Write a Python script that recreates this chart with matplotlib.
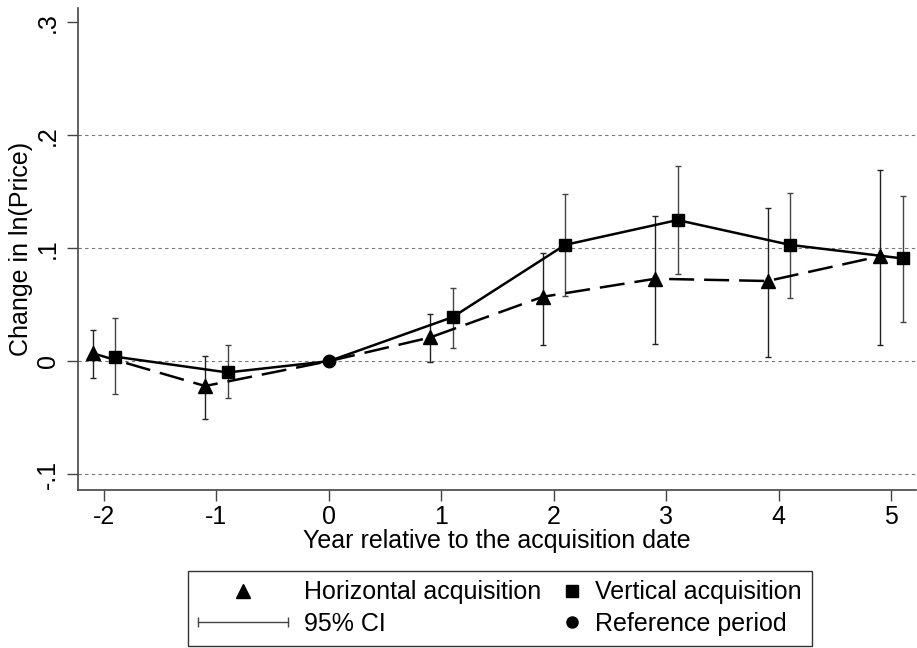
import numpy as np
import matplotlib.pyplot as plt
from matplotlib.lines import Line2D
from matplotlib.legend_handler import HandlerBase

plt.rcParams["font.family"] = ["Liberation Sans", "DejaVu Sans"]

years = [-2, -1, 0, 1, 2, 3, 4, 5]

# horizontal acquisitions (plotted slightly left of the year)
horiz_x = [-2.1, -1.1, 0.9, 1.9, 2.9, 3.9, 4.9]
horiz = [0.007, -0.022, 0.021, 0.057, 0.073, 0.071, 0.093]
horiz_lo = [-0.015, -0.051, -0.001, 0.014, 0.015, 0.004, 0.014]
horiz_hi = [0.028, 0.005, 0.042, 0.096, 0.129, 0.136, 0.169]

# vertical acquisitions (plotted slightly right of the year)
vert_x = [-1.9, -0.9, 1.1, 2.1, 3.1, 4.1, 5.1]
vert = [0.004, -0.010, 0.039, 0.103, 0.125, 0.103, 0.091]
vert_lo = [-0.029, -0.033, 0.012, 0.058, 0.077, 0.056, 0.035]
vert_hi = [0.038, 0.014, 0.065, 0.148, 0.173, 0.149, 0.146]

ref_x, ref_y = 0, 0


class MarkerHandler(HandlerBase):
    # marker drawn at a chosen spot of the handle box (0.5 = centre, 1 = right end)
    def __init__(self, marker, ms, where=0.5):
        super().__init__()
        self.marker, self.ms, self.where = marker, ms, where

    def create_artists(self, legend, orig_handle, xdescent, ydescent, width, height,
                       fontsize, trans):
        x = -xdescent + width * self.where - (self.ms * 0.6 if self.where == 1 else 0)
        y = -ydescent + height / 2
        m = Line2D([x], [y], marker=self.marker, color="black", ls="none", ms=self.ms,
                   transform=trans)
        return [m]


class CIHandler(HandlerBase):
    def create_artists(self, legend, orig_handle, xdescent, ydescent, width, height,
                       fontsize, trans):
        y = -ydescent + height / 2
        x0, x1 = -xdescent, -xdescent + width
        line = Line2D([x0, x1], [y, y], color="#444444", lw=1, transform=trans)
        caps = Line2D([x0, x1], [y, y], color="#444444", ls="none", marker="|", ms=7,
                      mew=1, transform=trans)
        return [line, caps]


fig = plt.figure(figsize=(9.17, 6.48), dpi=100)
ax = fig.add_axes([0.085, 0.244, 0.914, 0.744])

for yv in [-0.1, 0, 0.1, 0.2]:
    ax.axhline(yv, color="#777777", lw=0.8, ls=(0, (3, 3)), zorder=0)

h = np.array(horiz)
v = np.array(vert)
ax.errorbar(horiz_x, horiz, yerr=[h - np.array(horiz_lo), np.array(horiz_hi) - h],
            fmt="none", ecolor="#222222", elinewidth=1, capsize=2.5, capthick=1, zorder=2)
ax.errorbar(vert_x, vert, yerr=[v - np.array(vert_lo), np.array(vert_hi) - v],
            fmt="none", ecolor="#444444", elinewidth=1, capsize=2.5, capthick=1, zorder=2)

# lines pass through the reference point
hx = horiz_x[:2] + [ref_x] + horiz_x[2:]
hy = horiz[:2] + [ref_y] + horiz[2:]
vx = vert_x[:2] + [ref_x] + vert_x[2:]
vy = vert[:2] + [ref_y] + vert[2:]
ax.plot(hx, hy, color="black", lw=1.8, ls=(0, (10, 4)), zorder=3)
ax.plot(vx, vy, color="black", lw=1.8, zorder=3)
ax.plot(horiz_x, horiz, "^", color="black", ms=10, zorder=4)
ax.plot(vert_x, vert, "s", color="black", ms=9, zorder=4)
ax.plot([ref_x], [ref_y], "o", color="black", ms=9, zorder=5)

ax.set_xlim(-2.23, 5.22)
ax.set_ylim(-0.114, 0.313)
ax.set_xticks(years)
ax.set_xticklabels([str(y) for y in years])
ax.set_yticks([-0.1, 0, 0.1, 0.2, 0.3])
ax.set_yticklabels(["-.1", "0", ".1", ".2", ".3"], rotation=90, va="center")
ax.tick_params(labelsize=18, length=8, width=1, color="#444444", pad=5)
ax.tick_params(axis="x", pad=3)
for s in ["top", "right"]:
    ax.spines[s].set_visible(False)
for s in ["left", "bottom"]:
    ax.spines[s].set_color("#444444")
    ax.spines[s].set_linewidth(1.2)

ax.set_xlabel("Year relative to the acquisition date", fontsize=18, labelpad=0)
ax.set_ylabel("Change in ln(Price)", fontsize=18, labelpad=2)

h_tri, h_ci, h_sq, h_ci_dot = object(), object(), object(), object()
handles = [h_tri, h_ci, h_sq, h_ci_dot]
labels = ["Horizontal acquisition", "95% CI", "Vertical acquisition", "Reference period"]
hmap = {
    h_tri: MarkerHandler("^", 10),
    h_ci: CIHandler(),
    h_sq: MarkerHandler("s", 8, where=1),
    h_ci_dot: MarkerHandler("o", 8, where=1),
}
leg = fig.legend(handles, labels, ncol=2, loc="lower left", handler_map=hmap,
                 bbox_to_anchor=(188 / 917, 2 / 648, (812 - 188) / 917, 78 / 648),
                 mode="expand", fontsize=18, frameon=True, fancybox=False,
                 edgecolor="black", handlelength=3.6, handletextpad=0.65,
                 columnspacing=0.5, labelspacing=0.3, borderpad=0.4, borderaxespad=0)
leg.get_frame().set_linewidth(1)

fig.savefig("out.png", dpi=100)
